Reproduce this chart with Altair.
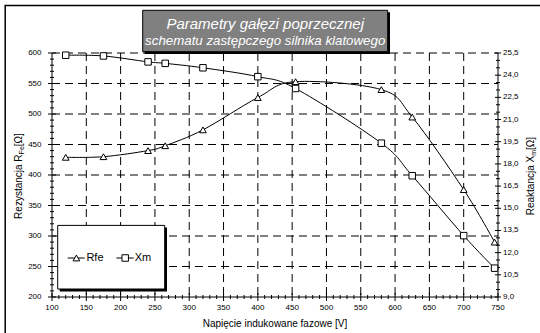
import altair as alt
import pandas as pd

# ---- data ----
voltage = [120, 175, 240, 265, 320, 400, 455, 580, 625, 700, 745]
rfe = [429, 430, 440, 448, 474, 527, 553, 540, 495, 376, 290]
xm = [25.35, 25.3, 24.9, 24.8, 24.5, 23.9, 23.1, 19.4, 17.2, 13.15, 10.95]
series_names = ["Rfe", "Xm"]

x_ticks = [100, 150, 200, 250, 300, 350, 400, 450, 500, 550, 600, 650, 700, 750]
left_ticks = [200, 250, 300, 350, 400, 450, 500, 550, 600]
right_ticks = [9.0, 10.5, 12.0, 13.5, 15.0, 16.5, 18.0, 19.5, 21.0, 22.5, 24.0, 25.5]
x_grid = [150, 200, 250, 300, 350, 400, 450, 500, 550, 600, 650, 700]
y_grid = [250, 300, 350, 400, 450, 500, 550, 600]
x_minor = [v for v in range(100, 751, 10) if v % 50]
left_minor = [v for v in range(200, 601, 10) if v % 50]
right_minor = [9.0 + 0.5 * k for k in range(34) if k % 3]

title_line1 = "Parametry gałęzi poprzecznej"
title_line2 = "schematu zastępczego silnika klatowego"
x_title = "Napięcie indukowane fazowe [V]"

FONT = "Liberation Sans"
W, H = 446, 244
PAD = {"left": 52, "top": 53, "right": 540 - 52 - W, "bottom": 333 - 53 - H}

df = pd.DataFrame({"U": voltage, "Rfe": rfe, "Xm": xm})
one = pd.DataFrame({"_": [0]})

xscale = alt.Scale(domain=[100, 750], nice=False, zero=False)
lscale = alt.Scale(domain=[200, 600], nice=False, zero=False)
rscale = alt.Scale(domain=[9, 25.5], nice=False, zero=False)


def vals(name, values):
    return pd.DataFrame({name: values})


def xq(f):
    return alt.X(f, scale=xscale, axis=None)


def yl(f):
    return alt.Y(f, scale=lscale, axis=None)


def yr(f):
    return alt.Y(f, scale=rscale, axis=None)


# ---- grid ----
vgrid = alt.Chart(vals("g", x_grid)).mark_rule(color="black", strokeWidth=1, strokeDash=[8, 5]).encode(
    x=xq("g:Q"), y=alt.value(0), y2=alt.value(H))
hgrid = alt.Chart(vals("g", y_grid)).mark_rule(color="black", strokeWidth=1, strokeDash=[8, 5]).encode(
    y=yl("g:Q"), x=alt.value(0), x2=alt.value(W))

# ---- axes drawn from tick lists ----
rule = dict(color="black", strokeWidth=1)
x_dom = alt.Chart(vals("t", [100, 750])).mark_rule(**rule).encode(
    x=xq("min(t):Q"), x2="max(t):Q", y=alt.value(H))
l_dom = alt.Chart(vals("t", [200, 600])).mark_rule(**rule).encode(
    y=yl("min(t):Q"), y2="max(t):Q", x=alt.value(0))
r_dom = alt.Chart(vals("t", [9.0, 25.5])).mark_rule(**rule).encode(
    y=yr("min(t):Q"), y2="max(t):Q", x=alt.value(W))

xt_maj = alt.Chart(vals("t", x_ticks)).mark_rule(**rule).encode(
    x=xq("t:Q"), y=alt.value(H - 4), y2=alt.value(H + 4))
xt_min = alt.Chart(vals("t", x_minor)).mark_rule(**rule).encode(
    x=xq("t:Q"), y=alt.value(H - 2), y2=alt.value(H + 2))
lt_maj = alt.Chart(vals("t", left_ticks)).mark_rule(**rule).encode(
    y=yl("t:Q"), x=alt.value(-4), x2=alt.value(4))
lt_min = alt.Chart(vals("t", left_minor)).mark_rule(**rule).encode(
    y=yl("t:Q"), x=alt.value(-2), x2=alt.value(2))
rt_maj = alt.Chart(vals("t", right_ticks)).mark_rule(**rule).encode(
    y=yr("t:Q"), x=alt.value(W - 3), x2=alt.value(W + 3))
rt_min = alt.Chart(vals("t", right_minor)).mark_rule(**rule).encode(
    y=yr("t:Q"), x=alt.value(W - 2), x2=alt.value(W + 2))

lab = dict(font=FONT, fontSize=8, color="black")
x_lab = alt.Chart(vals("t", x_ticks)).mark_text(align="center", baseline="middle", **lab).encode(
    x=xq("t:Q"), y=alt.value(H + 11), text=alt.Text("t:Q", format="d"))
l_lab = alt.Chart(vals("t", left_ticks)).mark_text(align="right", baseline="middle", **lab).encode(
    y=yl("t:Q"), x=alt.value(-10.5), text=alt.Text("t:Q", format="d"))
r_lab = alt.Chart(vals("t", right_ticks)).transform_calculate(
    lab="replace(format(datum.t, '.1f'), '.', ',')").mark_text(
    align="left", baseline="middle", **lab).encode(
    y=yr("t:Q"), x=alt.value(W + 5), text="lab:N")

# ---- data series ----
base = alt.Chart(df)
line_rfe = base.mark_line(color="black", strokeWidth=1, interpolate="cardinal").encode(
    x=xq("U:Q"), y=yl("Rfe:Q"))
pts_rfe = base.mark_point(shape="triangle-up", size=45, filled=True, fill="white",
                          stroke="black", strokeWidth=1, opacity=1).encode(
    x=xq("U:Q"), y=yl("Rfe:Q"))
line_xm = base.mark_line(color="black", strokeWidth=1, interpolate="cardinal").encode(
    x=xq("U:Q"), y=yr("Xm:Q"))
pts_xm = base.mark_point(shape="square", size=42, filled=True, fill="white",
                         stroke="black", strokeWidth=1, opacity=1).encode(
    x=xq("U:Q"), y=yr("Xm:Q"))

left = alt.layer(vgrid, hgrid, x_dom, l_dom, xt_maj, xt_min, lt_maj, lt_min,
                 x_lab, l_lab, line_rfe, pts_rfe)
right = alt.layer(r_dom, rt_maj, rt_min, r_lab, line_xm, pts_xm)

# ---- decorations ----
dec = alt.Chart(one)
frame = dec.mark_rect(fill="white", fillOpacity=0, stroke="black", strokeWidth=1.5).encode(
    x=alt.value(-46.8), x2=alt.value(560), y=alt.value(-47.5), y2=alt.value(360))
tshadow = dec.mark_rect(fill="black").encode(
    x=alt.value(92.7), x2=alt.value(338), y=alt.value(-40.7), y2=alt.value(1))
tbox = dec.mark_rect(fill="#808080", stroke="black", strokeWidth=1).encode(
    x=alt.value(90.7), x2=alt.value(335.7), y=alt.value(-42.7), y2=alt.value(-1.3))
t1 = dec.mark_text(font=FONT, fontSize=15, fontStyle="italic", color="white",
                   align="center", baseline="alphabetic").encode(
    x=alt.value(213.2), y=alt.value(-24.3), text=alt.value(title_line1))
t2 = dec.mark_text(font=FONT, fontSize=13.3, fontStyle="italic", color="white",
                   align="center", baseline="alphabetic").encode(
    x=alt.value(213.2), y=alt.value(-8.3), text=alt.value(title_line2))
xt = dec.mark_text(font=FONT, fontSize=10, color="black", align="center",
                   baseline="alphabetic").encode(
    x=alt.value(W / 2), y=alt.value(H + 30), text=alt.value(x_title))

# legend
lshadow = dec.mark_rect(fill="black").encode(
    x=alt.value(7.7), x2=alt.value(115), y=alt.value(174.5), y2=alt.value(238.5))
lbox = dec.mark_rect(fill="white", stroke="black", strokeWidth=1).encode(
    x=alt.value(5.7), x2=alt.value(112.7), y=alt.value(172.4), y2=alt.value(236))
LY = 205
leg_l1 = dec.mark_rule(color="black").encode(x=alt.value(15.7), x2=alt.value(32.7), y=alt.value(LY))
leg_p1 = dec.mark_point(shape="triangle-up", size=45, filled=True, fill="white", stroke="black",
                        strokeWidth=1, opacity=1).encode(x=alt.value(24.4), y=alt.value(LY))
leg_t1 = dec.mark_text(font=FONT, fontSize=11, color="black", align="left", baseline="middle").encode(
    x=alt.value(34.4), y=alt.value(LY), text=alt.value(series_names[0]))
leg_l2 = dec.mark_rule(color="black").encode(x=alt.value(64.4), x2=alt.value(81.7), y=alt.value(LY))
leg_p2 = dec.mark_point(shape="square", size=42, filled=True, fill="white", stroke="black",
                        strokeWidth=1, opacity=1).encode(x=alt.value(73.2), y=alt.value(LY))
leg_t2 = dec.mark_text(font=FONT, fontSize=11, color="black", align="left", baseline="middle").encode(
    x=alt.value(82.7), y=alt.value(LY), text=alt.value(series_names[1]))


# axis titles with subscripts (rotated, reading upwards)
def vtext(x, y, s, size):
    return dec.mark_text(font=FONT, fontSize=size, color="black", align="left",
                         baseline="alphabetic", angle=270).encode(
        x=alt.value(x), y=alt.value(y), text=alt.value(s))


lt1 = vtext(-30.3, 165.9, "Rezystancja R", 10)
lt2 = vtext(-27.8, 101.4, "Fe", 7)
lt3 = vtext(-30.3, 93.2, " [Ω]", 10)
rt1 = vtext(481.7, 162.3, "Reaktancja X", 10)
rt2 = vtext(484.2, 102.8, "m", 7)
rt3 = vtext(481.7, 97.0, " [Ω]", 10)

chart = alt.layer(
    frame, left, right, tshadow, tbox, t1, t2, xt,
    lshadow, lbox, leg_l1, leg_p1, leg_t1, leg_l2, leg_p2, leg_t2,
    lt1, lt2, lt3, rt1, rt2, rt3,
).resolve_scale(y="independent").properties(
    width=W, height=H, padding=PAD,
    autosize=alt.AutoSizeParams(type="none"), background="white",
).configure_view(stroke=None)

chart.save("out.html", embed_options={"renderer": "svg", "actions": False})
